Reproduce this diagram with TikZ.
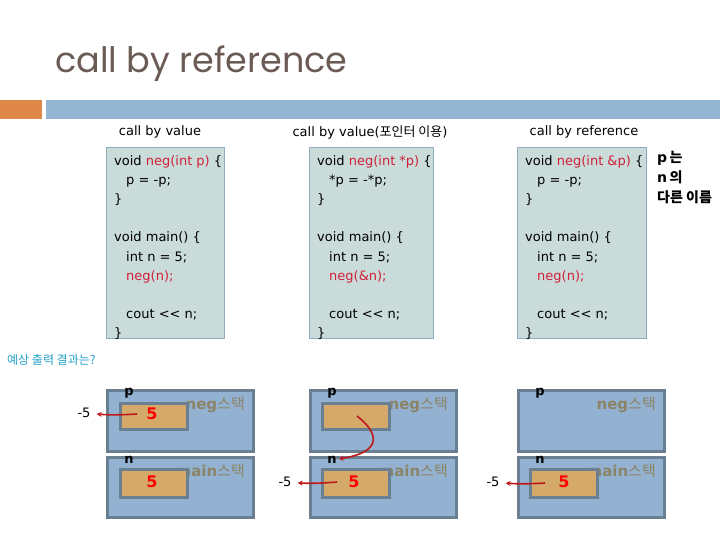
\documentclass[tikz,border=0pt]{standalone}
\usepackage{fontspec}
\setmainfont{DejaVu Sans}
\newfontfamily\kr{Noto Sans CJK KR}
\newfontfamily\titlefont{Poppins}
\usetikzlibrary{arrows.meta}
%
\definecolor{titlegray}{HTML}{6B5B55}
\definecolor{barorange}{HTML}{E0874A}
\definecolor{barblue}{HTML}{94B6D2}
\definecolor{codefill}{HTML}{CADCD9}
\definecolor{codeline}{HTML}{8FA9BF}
\definecolor{codered}{HTML}{D0203A}
\definecolor{stackfill}{HTML}{93B1D0}
\definecolor{stackline}{HTML}{6A7F92}
\definecolor{varfill}{HTML}{D4A96A}
\definecolor{stacktxt}{HTML}{8B8468}
\definecolor{asktxt}{HTML}{22A0C8}
\definecolor{arrred}{HTML}{C01818}
\newcommand{\redtxt}[1]{\textcolor{codered}{#1}}
\newcommand{\ind}{\hspace*{12pt}}
%
\begin{document}
\begin{tikzpicture}
[
 x=1pt, y=-1pt,
 inner sep=0pt,
 BAR/.style={rectangle, anchor=north west, minimum height=19pt},
 HEAD/.style={font=\fontsize{13}{15}\selectfont},
 CODEBOX/.style={rectangle, anchor=north west, draw=codeline, fill=codefill, line width=0.8pt, minimum height=191pt},
 CODE/.style={anchor=north west, align=left, font=\fontsize{13}{19.2}\selectfont},
 STACK/.style={rectangle, anchor=north west, draw=stackline, fill=stackfill, line width=3pt, minimum width=146pt},
 VAR/.style={rectangle, anchor=north west, draw=stackline, fill=varfill, line width=3pt, minimum width=67pt},
 STXT/.style={anchor=east, text=stacktxt, font=\fontsize{15}{17}\selectfont},
 NAME/.style={font=\bfseries\fontsize{13}{15}\selectfont},
 VAL/.style={text=red, font=\bfseries\fontsize{16}{18}\selectfont},
 OUT/.style={font=\fontsize{13}{15}\selectfont},
 ARR/.style={draw=arrred, line width=1.6pt, -{Stealth[length=5pt,width=5pt]}},
 ]
%
\useasboundingbox (0,0) rectangle (720,540);
%
\node [anchor=base west, text=titlegray, font=\titlefont\fontsize{35}{40}\selectfont] (title) at (55,73) {call by reference};
\node [BAR, fill=barorange, minimum width=42pt] (bar1) at (0,100) {};
\node [BAR, fill=barblue, minimum width=674pt] (bar2) at (46,100) {};
%
\node [HEAD] (h1) at (160,132) {call by value};
\node [HEAD] (h2) at (370,132) {call by value({\kr 포인터 이용})};
\node [HEAD] (h3) at (584,132) {call by reference};
%
\node [CODEBOX, minimum width=118pt] (box1) at (106,147) {};
\node [CODEBOX, minimum width=124pt] (box2) at (309,147) {};
\node [CODEBOX, minimum width=129pt] (box3) at (517,147) {};
%
\node [CODE] (code1) at (114,155) {void \redtxt{neg(int p)} \{\\ \ind p = -p;\\ \}\\ \mbox{}\\ void main() \{\\ \ind int n = 5;\\ \ind\redtxt{neg(n);}\\ \mbox{}\\ \ind cout <{}< n;\\ \}};
\node [CODE] (code2) at (317,155) {void \redtxt{neg(int *p)} \{\\ \ind *p = -*p;\\ \}\\ \mbox{}\\ void main() \{\\ \ind int n = 5;\\ \ind\redtxt{neg(\&n);}\\ \mbox{}\\ \ind cout <{}< n;\\ \}};
\node [CODE] (code3) at (525,155) {void \redtxt{neg(int \&p)} \{\\ \ind p = -p;\\ \}\\ \mbox{}\\ void main() \{\\ \ind int n = 5;\\ \ind\redtxt{neg(n);}\\ \mbox{}\\ \ind cout <{}< n;\\ \}};
%
\node [anchor=north west, align=left, font=\bfseries\fontsize{14}{20}\selectfont] (note) at (657,151) {p\,{\kr 는}\\ n\,{\kr 의}\\ {\kr 다른 이름}};
\node [anchor=west, text=asktxt, font=\kr\fontsize{12}{14}\selectfont] (ask) at (7,360) {예상 출력 결과는?};
%
\foreach \i/\x in {1/106, 2/309, 3/517}
   {
     \node [STACK, minimum height=61pt] (neg\i)  at (\x,389) {};
     \node [STACK, minimum height=60pt] (main\i) at (\x,456) {};
     \node [STXT] (nt\i) at (\x+139,405) {\textbf{neg}{\kr 스택}};
     \node [STXT] (mt\i) at (\x+139,471) {\textbf{main}{\kr 스택}};
     \node [NAME] (p\i) at (\x+23,393) {p};
     \node [NAME] (n\i) at (\x+23,460) {n};
   }
%
\node [VAR, minimum height=26pt] (pv1) at (119,402) {};
\node [VAR, minimum height=28pt] (nv1) at (119,468) {};
\node [VAR, minimum height=26pt] (pv2) at (321,402) {};
\node [VAR, minimum height=28pt] (nv2) at (321,468) {};
\node [VAR, minimum height=28pt] (nv3) at (529,468) {};
%
\node [VAL] (x1) at (152,414) {5};
\node [VAL] (y1) at (152,482) {5};
\node [VAL] (y2) at (354,482) {5};
\node [VAL] (y3) at (564,482) {5};
%
\node [OUT] (m1) at (84,413) {-5};
\node [OUT] (m2) at (285,482) {-5};
\node [OUT] (m3) at (493,482) {-5};
%
\coordinate (s1) at (137,414);
\coordinate (s2) at (337,482);
\coordinate (s3) at (545,483);
\coordinate (q2) at (357,416);
%
\draw [ARR, shorten >=6pt]  (s1) to[bend left=4] (m1) ;
\draw [ARR, shorten >=6pt]  (s2) to[bend left=4] (m2) ;
\draw [ARR, shorten >=6pt]  (s3) to[bend left=4] (m3) ;
\draw [ARR, shorten >=2pt]  (q2) .. controls (380,434) and (382,452) .. (n2) ;
%
\end{tikzpicture}
\end{document}
